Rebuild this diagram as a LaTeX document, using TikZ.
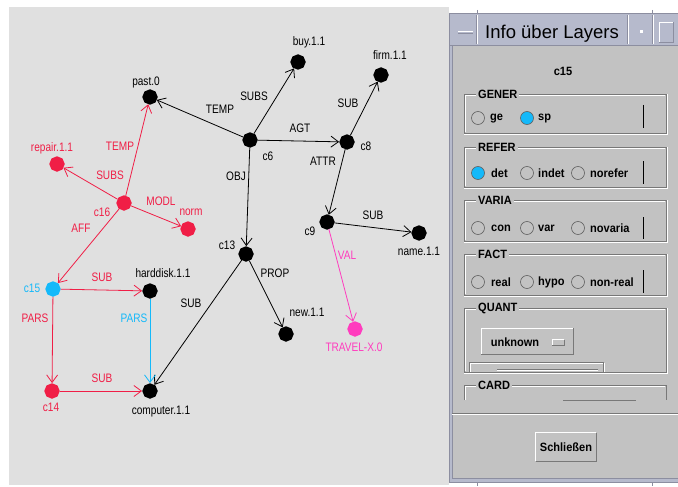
\documentclass[tikz,border=0pt]{standalone}
\usepackage{fontspec}
\setmainfont{Liberation Sans}
\newfontfamily\lblfont[FakeStretch=0.82]{Liberation Sans}
\newfontfamily\uifont[FakeStretch=0.92]{Liberation Sans}
\usetikzlibrary{arrows.meta,shapes.geometric}
\definecolor{canvasbg}{RGB}{224,224,224}
\definecolor{panelbg}{RGB}{194,194,194}
\definecolor{titlebg}{RGB}{182,186,204}
\definecolor{framedk}{RGB}{140,142,160}
\definecolor{nred}{RGB}{240,30,70}
\definecolor{ncyan}{RGB}{20,185,250}
\definecolor{nmag}{RGB}{255,60,190}
\definecolor{dkline}{RGB}{120,120,120}
\tikzset{
  gnode/.style={regular polygon, regular polygon sides=8, minimum size=15.5pt, inner sep=0pt, fill=black, shape border rotate=22.5},
  rnode/.style={gnode, fill=nred},
  cnode/.style={gnode, fill=ncyan},
  mnode/.style={gnode, fill=nmag},
  lbl/.style={font=\lblfont\fontsize{12.3}{12.3}\selectfont, inner sep=0pt},
  rlbl/.style={lbl, text=nred},
  clbl/.style={lbl, text=ncyan},
  mlbl/.style={lbl, text=nmag},
  edge/.style={line width=0.8pt, -{Straight Barb[length=7.5pt,width=11pt,line width=0.8pt]}},
  redge/.style={edge, draw=nred},
  cedge/.style={edge, draw=ncyan},
  medge/.style={edge, draw=nmag},
  ui/.style={font=\uifont\bfseries\fontsize{12}{12}\selectfont, inner sep=0pt},
  grptitle/.style={ui, fill=panelbg, inner xsep=2pt, anchor=west},
  radio/.style={circle, minimum size=13pt, inner sep=0pt, draw=gray!75!black, fill=panelbg, line width=0.6pt},
  radioon/.style={radio, fill=ncyan},
  grpline/.style={draw=dkline, line width=0.8pt},
  hiline/.style={draw=white, line width=0.8pt},
  bar/.style={draw=black, line width=0.9pt},
}
\begin{document}
\begin{tikzpicture}[x=1pt,y=-1pt]
\useasboundingbox (0,0) rectangle (678,487);
\fill[white] (0,0) rectangle (678,487);
% canvas
\fill[canvasbg] (9,7) rectangle (449,485);

% ---------------- graph nodes
\node[gnode] (past) at (150,97) {};
\node[gnode] (buy) at (298,62) {};
\node[gnode] (firm) at (381,75) {};
\node[gnode] (c6) at (250,140) {};
\node[gnode] (c8) at (347,142) {};
\node[gnode] (c9) at (327,222) {};
\node[gnode] (name) at (419,233) {};
\node[rnode] (repair) at (57,164) {};
\node[rnode] (c16) at (124,203) {};
\node[rnode] (norm) at (188,229) {};
\node[gnode] (c13) at (246,254) {};
\node[cnode] (c15) at (53,289) {};
\node[gnode] (hd) at (150,291) {};
\node[gnode] (new) at (286,334) {};
\node[mnode] (travel) at (355,329) {};
\node[rnode] (c14) at (52,391) {};
\node[gnode] (comp) at (150,391) {};

% node labels
\node[lbl] (Lpast) at (146,82) {past.0};
\node[lbl] (Lbuy) at (309,42) {buy.1.1};
\node[lbl] (Lfirm) at (390,55) {firm.1.1};
\node[lbl] (Lc6) at (268,156) {c6};
\node[lbl] (Lc8) at (366,146) {c8};
\node[lbl] (Lc9) at (310,231) {c9};
\node[lbl] (Lname) at (419,251) {name.1.1};
\node[rlbl] (Lrepair) at (52,148) {repair.1.1};
\node[rlbl] (Lc16) at (102,212) {c16};
\node[rlbl] (Lnorm) at (191,212) {norm};
\node[lbl] (Lc13) at (227,245) {c13};
\node[clbl] (Lc15) at (32,288) {c15};
\node[lbl] (Lhd) at (163,273) {harddisk.1.1};
\node[lbl] (Lnew) at (307,312) {new.1.1};
\node[mlbl] (Ltravel) at (354,347) {TRAVEL-X.0};
\node[rlbl] (Lc14) at (51,407) {c14};
\node[lbl] (Lcomp) at (161,412) {computer.1.1};

% edges
\draw[edge] (c6) -- (past);
\draw[edge] (c6) -- (buy);
\draw[edge] (c6) -- (c8);
\draw[edge] (c6) -- (c13);
\draw[edge] (c8) -- (firm);
\draw[edge] (c8) -- (c9);
\draw[edge] (c9) -- (name);
\draw[medge] (c9) -- (travel);
\draw[edge] (c13) -- (new);
\draw[edge] (c13) -- (comp);
\draw[redge] (c16) -- (past);
\draw[redge] (c16) -- (repair);
\draw[redge] (c16) -- (norm);
\draw[redge] (c16) -- (c15);
\draw[redge] (c15) -- (hd);
\draw[redge] (c15) -- (c14);
\draw[cedge] (hd) -- (comp);
\draw[redge] (c14) -- (comp);

% edge labels
\node[lbl] (eTEMP) at (220,109) {TEMP};
\node[lbl] (eSUBS) at (254,96) {SUBS};
\node[lbl] (eAGT) at (300,128) {AGT};
\node[lbl] (eSUBf) at (348,103) {SUB};
\node[lbl] (eATTR) at (323,161) {ATTR};
\node[lbl] (eOBJ) at (236,176) {OBJ};
\node[lbl] (eSUBn) at (373,215) {SUB};
\node[mlbl] (eVAL) at (347,255) {VAL};
\node[lbl] (ePROP) at (275,273) {PROP};
\node[lbl] (eSUBc) at (191,303) {SUB};
\node[rlbl] (eTEMPr) at (120,146) {TEMP};
\node[rlbl] (eSUBSr) at (110,175) {SUBS};
\node[rlbl] (eMODL) at (161,201) {MODL};
\node[rlbl] (eAFF) at (81,228) {AFF};
\node[rlbl] (eSUBh) at (102,277) {SUB};
\node[rlbl] (ePARSr) at (35,318) {PARS};
\node[clbl] (ePARSc) at (134,318) {PARS};
\node[rlbl] (eSUBb) at (102,378) {SUB};

% ---------------- info window
\fill[titlebg] (449,13) rectangle (678,482);
\draw[framedk, line width=0.8pt] (449,13) -- (678,13);
\draw[framedk, line width=0.8pt] (477,10) -- (477,13) (652,10) -- (652,13);
\draw[framedk, line width=0.8pt] (449,13) -- (449,482) -- (678,482);
\draw[framedk, line width=0.8pt] (477,482) -- (477,486) (652,482) -- (652,486);
% title bar parts
\draw[white, line width=0.8pt] (477,15) -- (477,44) (628,15) -- (628,44) (653,15) -- (653,44);
\draw[framedk, line width=0.8pt] (476,15) -- (476,44) (627,15) -- (627,44) (652,15) -- (652,44);
\draw[white, line width=1pt] (458,32) -- (473,32);
\draw[framedk, line width=0.8pt] (458,33.5) -- (473,33.5);
\fill[white] (639.5,30.5) rectangle (642.5,33.5);
\draw[white, line width=0.8pt] (659,42) -- (659,22) -- (673,22);
\draw[framedk, line width=0.8pt] (659,42) -- (673,42) -- (673,22);
\node[font=\fontsize{18.5}{18.5}\selectfont, inner sep=0pt, anchor=base west] (title) at (485,39) {Info über Layers};
\draw[framedk, line width=0.8pt] (449,45.5) -- (678,45.5);
% body
\fill[panelbg] (452,46) rectangle (678,478);
\draw[framedk, line width=0.8pt] (452,46) -- (452,478) -- (678,478);

\node[ui] (cname) at (563,71) {c15};

% GENER
\draw[grpline] (464,94) rectangle (666,133);
\draw[hiline] (465,95) -- (665,95) (465,95) -- (465,132) (464,134) -- (667,134) -- (667,94);
\node[grptitle] (tGENER) at (476,94) {GENER};
\node[radio] (rge) at (478,118) {};
\node[ui, anchor=west] (lge) at (490,118.5) {ge};
\node[radioon] (rsp) at (527,118) {};
\node[ui, anchor=west] (lsp) at (538,118.5) {sp};
\draw[bar] (643,105) -- (643,128);

% REFER
\draw[grpline] (464,147) rectangle (666,187);
\draw[hiline] (465,148) -- (665,148) (465,148) -- (465,186) (464,188) -- (667,188) -- (667,147);
\node[grptitle] (tREFER) at (476,147) {REFER};
\node[radioon] (rdet) at (478,173) {};
\node[ui, anchor=west] (ldet) at (491,173) {det};
\node[radio] (rindet) at (527,173) {};
\node[ui, anchor=west] (lindet) at (538,173) {indet};
\node[radio] (rnoref) at (578,173) {};
\node[ui, anchor=west] (lnoref) at (590,173) {norefer};
\draw[bar] (643,161) -- (643,184);

% VARIA
\draw[grpline] (464,200) rectangle (666,241);
\draw[hiline] (465,201) -- (665,201) (465,201) -- (465,240) (464,242) -- (667,242) -- (667,200);
\node[grptitle] (tVARIA) at (476,200) {VARIA};
\node[radio] (rcon) at (478,228) {};
\node[ui, anchor=west] (lcon) at (491,228) {con};
\node[radio] (rvar) at (527,228) {};
\node[ui, anchor=west] (lvar) at (538,228) {var};
\node[radio] (rnovar) at (578,228) {};
\node[ui, anchor=west] (lnovar) at (590,228) {novaria};
\draw[bar] (643,217) -- (643,239);

% FACT
\draw[grpline] (464,254) rectangle (666,295);
\draw[hiline] (465,255) -- (665,255) (465,255) -- (465,294) (464,296) -- (667,296) -- (667,254);
\node[grptitle] (tFACT) at (476,254) {FACT};
\node[radio] (rreal) at (478,282) {};
\node[ui, anchor=west] (lreal) at (491,282) {real};
\node[radio] (rhypo) at (527,282) {};
\node[ui, anchor=west] (lhypo) at (538,282) {hypo};
\node[radio] (rnonreal) at (578,282) {};
\node[ui, anchor=west] (lnonreal) at (590,282) {non-real};
\draw[bar] (643,270) -- (643,293);

% QUANT
\draw[grpline] (464,308) rectangle (666,372);
\draw[hiline] (465,309) -- (665,309) (465,309) -- (465,371) (464,373) -- (667,373) -- (667,308);
\node[grptitle] (tQUANT) at (476,308) {QUANT};
\fill[panelbg] (481,328) rectangle (573,354);
\draw[white, line width=0.8pt] (481,354) -- (481,328) -- (573,328);
\draw[dkline, line width=0.8pt] (481,354) -- (573,354) -- (573,328);
\node[ui] (unknown) at (515,342) {unknown};
\draw[white, line width=0.7pt] (552,345) -- (552,339.5) -- (564,339.5);
\draw[dkline, line width=0.7pt] (552,345) -- (564,345) -- (564,339.5);
\draw[white, line width=0.8pt] (470,372) -- (470,363) -- (604,363) -- (604,372);
\draw[dkline, line width=0.8pt] (469,372) -- (469,362) -- (603,362) -- (603,372);
\draw[dkline, line width=0.8pt] (497,369) -- (598,369);
\draw[white, line width=0.6pt] (497,370.5) -- (598,370.5);

% CARD
\draw[grpline] (464,400) -- (464,385) -- (666,385) -- (666,400);
\draw[hiline] (465,400) -- (465,386) -- (665,386);
\node[grptitle] (tCARD) at (476,385) {CARD};
\draw[dkline, line width=0.8pt] (563,400) -- (636,400);

% separator
\draw[dkline, line width=0.8pt] (452,413) -- (678,413);
\draw[white, line width=0.8pt] (452,414.5) -- (678,414.5);

% close button
\node[ui, font=\uifont\bfseries\fontsize{12}{12}\selectfont, minimum width=60pt, minimum height=28pt, fill=panelbg] (close) at (566,447) {Schließen};
\draw[white, line width=0.8pt] (close.south west) |- (close.north east);
\draw[dkline, line width=0.8pt] (close.south west) -| (close.north east);
\end{tikzpicture}
\end{document}
